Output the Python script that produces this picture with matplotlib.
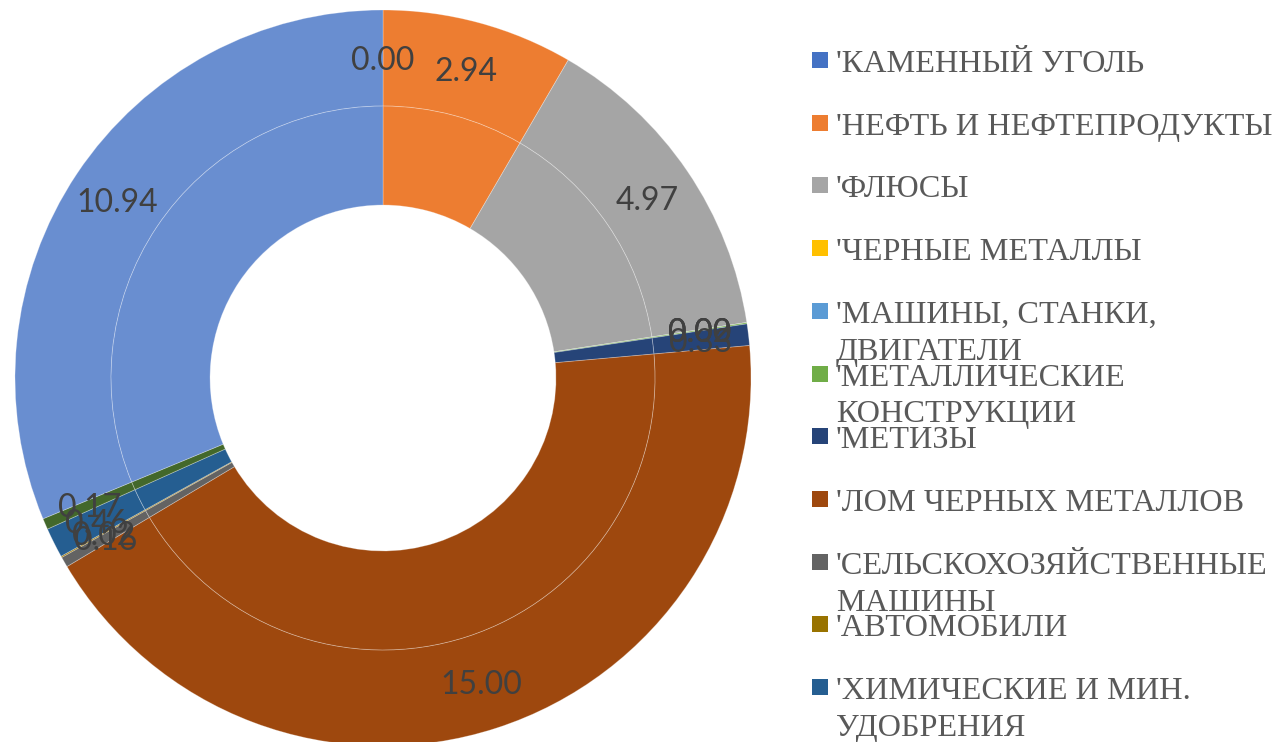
import matplotlib
matplotlib.use("Agg")
import matplotlib.pyplot as plt
import numpy as np
from matplotlib.patches import Rectangle

# ---- data ----
categories = ["'КАМЕННЫЙ УГОЛЬ", "'НЕФТЬ И НЕФТЕПРОДУКТЫ", "'ФЛЮСЫ", "'ЧЕРНЫЕ МЕТАЛЛЫ",
              "'МАШИНЫ, СТАНКИ,\nДВИГАТЕЛИ", "'МЕТАЛЛИЧЕСКИЕ\nКОНСТРУКЦИИ", "'МЕТИЗЫ",
              "'ЛОМ ЧЕРНЫХ МЕТАЛЛОВ", "'СЕЛЬСКОХОЗЯЙСТВЕННЫЕ\nМАШИНЫ", "'АВТОМОБИЛИ",
              "'ХИМИЧЕСКИЕ И МИН.\nУДОБРЕНИЯ", "", ""]
outer_values = [0.00, 2.94, 4.97, 0.00, 0.00, 0.02, 0.33, 15.00, 0.16, 0.02, 0.46, 0.17, 10.94]
inner_values = [0.00, 2.94, 4.97, 0.00, 0.00, 0.02, 0.33, 15.00, 0.16, 0.02, 0.46, 0.17, 10.94]
colors = ["#4472C4", "#ED7D31", "#A5A5A5", "#FFC000", "#5B9BD5", "#70AD47",
          "#264478", "#9E480E", "#636363", "#997300", "#255E91", "#43682B", "#698ED0"]
legend_count = 11

W, H = 1275, 742
fig = plt.figure(figsize=(W / 100, H / 100), dpi=100)

cx, cy, R = 383, 378, 368
ax = fig.add_axes([(cx - R) / W, (H - cy - R) / H, 2 * R / W, 2 * R / H])
ax.axis("off")

r_split = 0.739
r_hole = 0.47
edge = dict(edgecolor=(1, 1, 1, 0.3), linewidth=0.6)

ax.pie(outer_values, radius=1.0, colors=colors, startangle=90, counterclock=False,
       wedgeprops=dict(width=1.0 - r_split, **edge))
ax.pie(inner_values, radius=r_split, colors=colors, startangle=90, counterclock=False,
       wedgeprops=dict(width=r_split - r_hole, **edge))
ax.set_aspect("auto")
ax.set_xlim(-1, 1)
ax.set_ylim(-1, 1)

# data labels on outer ring
total = sum(outer_values)
cum = 0.0
r_lab = (1.0 + r_split) / 2
for v in outer_values:
    mid = (cum + v / 2) / total * 2 * np.pi
    cum += v
    x = r_lab * np.sin(mid)
    y = r_lab * np.cos(mid) - 3.0 / R
    ax.text(x, y, f"{v:.2f}", ha="center", va="center", fontsize=23,
            family="Lato", color="#404040")

# legend (manual, Excel-like with wrapped lines)
row0, step = 61, 62.7
for i in range(legend_count):
    rc = row0 + i * step
    fig.patches.append(Rectangle((812 / W, 1 - (rc + 7) / H), 16 / W, 16 / H,
                                 transform=fig.transFigure, facecolor=colors[i],
                                 edgecolor="none"))
    for j, line in enumerate(categories[i].split("\n")):
        fig.text(836 / W, 1 - (rc + 11 + j * 37) / H, line, ha="left", va="baseline",
                 fontsize=23.2, family="Liberation Serif", color="#595959")

fig.savefig("out.png", dpi=100)
